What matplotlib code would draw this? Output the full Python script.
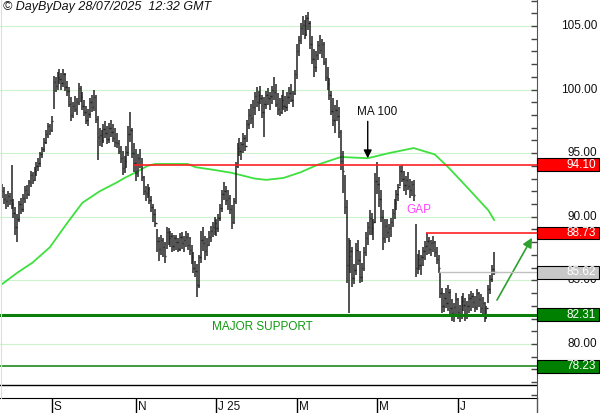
import numpy as np
import matplotlib.pyplot as plt
from matplotlib import transforms
from matplotlib.patches import Rectangle
from matplotlib.lines import Line2D

plt.rcParams['font.family'] = ['Liberation Sans', 'DejaVu Sans']

# daily bars (high / low / close), late Jul 2024 -> 28 Jul 2025
hi = [92.6, 92.3, 91.8, 92.0, 91.9, 94.1, 91.4, 90.8, 90.2, 91.2,
      91.5, 91.8, 92.4, 92.5, 92.9, 93.6, 93.5, 93.9, 94.3, 94.6,
      95.1, 95.5, 96.2, 96.8, 97.4, 97.3, 97.9, 101.1, 101.0, 101.4,
      101.6, 101.3, 101.6, 101.3, 100.7, 100.2, 99.4, 99.0, 99.5, 99.3,
      100.5, 100.3, 99.8, 99.2, 98.7, 98.5, 99.3, 99.6, 100.0, 99.6,
      97.9, 97.0, 96.8, 97.3, 97.5, 97.1, 97.4, 97.6, 97.3, 97.0,
      96.6, 96.0, 95.6, 95.2, 94.8, 95.6, 97.1, 98.2, 97.0, 95.8,
      95.3, 94.9, 95.3, 94.6, 93.2, 92.4, 92.6, 92.3, 91.6, 91.0,
      90.6, 89.0, 88.4, 88.6, 88.3, 88.0, 89.2, 89.1, 88.9, 88.7,
      88.6, 88.6, 88.3, 88.7, 88.8, 88.5, 88.9, 88.7, 88.4, 87.8,
      87.2, 86.5, 86.3, 87.0, 88.9, 89.2, 88.5, 88.3, 88.9, 89.3,
      89.6, 90.0, 89.8, 90.2, 91.0, 92.1, 92.7, 92.4, 92.1, 91.7,
      90.9, 91.5, 94.3, 95.8, 96.2, 95.9, 96.6, 96.4, 97.6, 98.5,
      98.9, 99.2, 99.8, 100.2, 99.9, 100.3, 99.6, 99.4, 99.9, 100.1,
      99.8, 100.3, 101.0, 100.4, 99.7, 99.3, 99.6, 100.0, 99.5, 99.8,
      100.2, 100.4, 99.9, 101.5, 103.6, 104.2, 105.2, 105.8, 105.5, 105.9,
      106.1, 105.4, 104.2, 103.2, 103.0, 103.8, 104.3, 104.0, 103.7, 102.5,
      101.8, 100.9, 99.9, 99.3, 98.8, 99.2, 98.6, 96.8, 95.2, 93.3,
      91.3, 88.3, 88.2, 87.6, 86.3, 87.9, 88.2, 87.3, 86.4, 87.6,
      88.8, 89.6, 90.5, 90.3, 89.8, 93.4, 94.3, 93.1, 92.1, 90.5,
      89.8, 89.8, 89.4, 89.9, 90.6, 91.4, 92.1, 92.6, 94.0, 94.1,
      93.6, 93.2, 93.5, 93.0, 92.8, 92.9, 89.4, 87.1, 87.4, 87.0,
      87.6, 88.1, 88.7, 88.4, 88.2, 88.5, 88.1, 87.6, 87.0, 85.6,
      84.4, 84.0, 84.4, 84.6, 84.3, 83.5, 83.2, 84.0, 83.6, 83.1,
      83.8, 84.0, 83.6, 83.4, 83.9, 84.2, 84.0, 83.8, 84.3, 84.1,
      83.9, 83.7, 83.3, 83.0, 84.6, 85.4, 86.2, 87.2]
lo = [91.5, 91.0, 90.6, 90.8, 90.9, 90.6, 89.9, 88.6, 88.0, 89.6,
      90.2, 90.4, 91.1, 91.4, 91.6, 92.3, 92.6, 92.8, 93.2, 93.6,
      93.9, 94.6, 95.1, 95.7, 96.2, 96.4, 96.7, 98.5, 99.8, 100.0,
      100.4, 100.0, 100.2, 99.9, 99.5, 98.6, 97.5, 97.8, 98.2, 98.0,
      98.8, 99.0, 98.4, 97.9, 97.3, 97.1, 97.8, 98.2, 98.3, 97.4,
      94.5, 95.6, 95.5, 95.8, 96.2, 95.7, 95.8, 96.3, 95.9, 95.5,
      95.4, 94.9, 94.2, 93.3, 93.4, 93.8, 94.8, 95.9, 94.6, 93.5,
      92.8, 93.1, 93.8, 92.8, 91.7, 91.2, 91.5, 91.0, 90.4, 89.6,
      89.2, 87.2, 86.5, 87.0, 86.8, 86.4, 87.5, 87.8, 87.6, 87.2,
      87.3, 87.4, 87.2, 87.3, 87.5, 87.2, 87.6, 87.4, 87.0, 86.3,
      85.6, 85.3, 83.7, 84.4, 86.4, 87.3, 86.6, 86.9, 87.7, 88.0,
      88.4, 88.6, 88.5, 88.8, 89.7, 90.4, 91.3, 90.9, 90.5, 90.2,
      89.0, 89.4, 91.0, 93.8, 94.8, 94.5, 95.0, 95.2, 95.9, 96.9,
      97.3, 97.0, 98.0, 98.6, 98.3, 98.9, 97.8, 96.3, 98.5, 98.8,
      98.4, 98.9, 99.2, 98.6, 98.0, 97.9, 98.1, 98.4, 98.2, 98.3,
      98.9, 99.0, 98.6, 99.6, 100.8, 102.6, 103.6, 104.3, 104.0, 104.2,
      104.7, 103.2, 102.0, 101.0, 101.4, 102.3, 102.8, 102.5, 101.9, 100.7,
      100.0, 99.2, 98.0, 97.1, 96.6, 97.5, 96.2, 93.7, 91.9, 90.2,
      84.8, 82.4, 85.6, 84.5, 84.7, 85.4, 86.2, 84.8, 84.9, 85.7,
      86.9, 87.8, 88.6, 88.6, 88.2, 89.5, 91.8, 90.8, 89.6, 87.4,
      87.9, 88.3, 88.0, 88.4, 89.2, 89.8, 90.5, 91.2, 92.4, 92.7,
      92.0, 91.7, 92.1, 91.5, 91.6, 91.2, 85.3, 85.5, 85.8, 85.4,
      86.1, 86.6, 87.0, 87.1, 86.9, 87.2, 86.8, 86.3, 85.6, 83.6,
      82.4, 82.5, 82.8, 82.6, 82.3, 81.8, 81.7, 82.3, 82.0, 81.7,
      82.0, 82.6, 81.8, 82.0, 82.4, 82.6, 82.8, 82.5, 82.7, 82.9,
      82.4, 82.3, 81.7, 82.0, 83.2, 83.9, 84.9, 85.4]
cl = [92.0, 91.4, 91.2, 91.6, 91.3, 91.0, 90.3, 89.2, 89.8, 91.0,
      90.6, 91.5, 92.1, 91.8, 92.7, 93.3, 92.9, 93.6, 94.0, 94.2,
      94.9, 95.3, 95.9, 96.5, 97.1, 96.8, 97.5, 100.6, 100.3, 101.0,
      100.8, 100.5, 101.2, 100.2, 99.9, 98.9, 98.0, 98.7, 98.5, 99.0,
      100.1, 99.4, 98.7, 98.2, 97.6, 98.1, 99.0, 98.6, 99.4, 97.7,
      96.3, 96.4, 96.0, 96.9, 96.6, 96.1, 97.0, 96.7, 96.2, 95.9,
      95.8, 95.2, 94.6, 93.8, 94.4, 95.1, 96.5, 96.8, 95.0, 94.2,
      93.4, 94.6, 94.1, 93.1, 92.0, 91.9, 92.2, 91.3, 90.8, 90.2,
      89.5, 88.1, 87.5, 88.2, 87.6, 86.9, 88.8, 88.3, 88.5, 87.7,
      88.3, 88.0, 87.5, 88.4, 87.9, 88.2, 88.4, 87.8, 87.4, 86.8,
      86.0, 85.7, 84.6, 86.8, 88.2, 87.9, 87.3, 87.8, 88.4, 88.9,
      89.2, 89.5, 89.1, 89.9, 90.7, 91.8, 92.0, 91.3, 91.5, 90.6,
      89.6, 91.2, 94.0, 95.4, 95.2, 95.7, 96.2, 95.6, 97.3, 98.0,
      97.8, 98.6, 99.5, 99.0, 99.6, 99.3, 98.2, 98.9, 99.6, 99.3,
      99.5, 100.0, 99.8, 98.9, 98.5, 98.2, 99.2, 98.7, 98.6, 99.4,
      99.7, 99.2, 99.7, 101.2, 103.0, 103.9, 104.8, 105.1, 104.4, 105.6,
      105.2, 103.6, 102.4, 101.8, 102.7, 103.5, 103.1, 103.6, 102.2, 101.0,
      100.4, 99.6, 98.3, 97.6, 98.4, 97.9, 96.7, 94.4, 93.6, 90.8,
      86.2, 86.9, 87.3, 85.2, 85.8, 87.4, 86.6, 85.3, 86.0, 87.2,
      88.3, 89.2, 89.9, 89.1, 89.6, 92.8, 92.6, 91.4, 90.0, 88.3,
      89.3, 88.8, 89.1, 89.6, 90.3, 91.1, 91.8, 92.3, 93.6, 93.0,
      92.5, 92.9, 92.4, 92.1, 92.6, 91.7, 86.0, 86.7, 86.2, 86.8,
      87.3, 87.7, 88.1, 87.5, 87.9, 88.0, 87.2, 86.7, 86.0, 84.0,
      83.0, 83.6, 83.2, 84.1, 82.8, 82.4, 82.9, 83.5, 82.5, 82.2,
      83.4, 83.1, 82.3, 83.0, 83.6, 83.8, 83.3, 82.9, 84.0, 83.5,
      82.8, 83.2, 82.1, 82.8, 84.3, 85.1, 85.9, 85.62]

# 100-day moving average
ma_idx = [0, 8, 16, 25, 34, 42, 51, 60, 64, 70, 76, 80, 97, 101, 110, 120,
          132, 138, 147, 156, 165, 173, 177, 191, 202, 215, 226, 233, 243,
          254, 257]
ma_val = [84.7, 85.6, 86.4, 87.6, 89.5, 91.1, 92.0, 92.7, 93.05, 93.5, 94.0,
          94.15, 94.15, 93.9, 93.7, 93.45, 93.0, 92.9, 93.05, 93.5, 94.1, 94.5,
          94.7, 94.6, 95.0, 95.4, 94.9, 93.9, 92.3, 90.5, 89.75]

month_idx = [26, 70, 112, 154, 196, 238]
month_lab = ['S', 'N', 'J 25', 'M', 'M', 'J']

ytick_vals = [80, 85, 90, 95, 100, 105]
level_vals = [94.10, 88.73, 85.62, 82.31, 78.23]
level_cols = ['#ff0000', '#ff0000', '#c8c8c8', '#008000', '#008000']

fig = plt.figure(figsize=(6, 4.13), dpi=100)
ax = fig.add_axes([0, 15 / 413, 537 / 600, 398 / 413])
ax.set_xlim(-1.04, 279.4)
ax.set_ylim(75.75, 107.04)

for v in ytick_vals:
    ax.axhline(v, color='#cdf3cd', lw=0.8, zorder=0)

idx = np.arange(len(cl))
ax.vlines(idx, lo, hi, color='#222222', lw=1.1, zorder=3)
ax.hlines(cl, idx, idx + 0.75, color='#222222', lw=1.0, zorder=3)

ax.plot(ma_idx, ma_val, color='#3ee03e', lw=1.3, zorder=2)

# support / resistance lines
xr = ax.get_xlim()[1]
ax.hlines(level_vals[0], 69, xr, color='#ff2020', lw=1.2, zorder=4)
ax.hlines(level_vals[1], 221.5, xr, color='#ff2020', lw=1.2, zorder=4)
ax.hlines(level_vals[2], 228, xr, color='#c0c0c0', lw=1.0, zorder=4)
ax.axhline(level_vals[3], color='#0a800a', lw=2.2, zorder=4)
ax.axhline(level_vals[4], color='#0a800a', lw=1.1, zorder=4)
ax.axhline(76.78, color='black', lw=1.0, zorder=4)

ax.text(135.8, 81.3, 'MAJOR SUPPORT', color='#119911', fontsize=8.5,
        ha='center', va='center')
ax.text(217.8, 90.5, 'GAP', color='#ff44ff', fontsize=8.5, ha='center', va='center')
ax.text(196, 98.2, 'MA 100', color='#111111', fontsize=8.5, ha='center', va='center')
ax.annotate('', xy=(191, 94.6), xytext=(191, 97.5),
            arrowprops=dict(arrowstyle='-|>', color='black', lw=1.0,
                            mutation_scale=12, shrinkA=0, shrinkB=0))
ax.annotate('', xy=(276.8, 88.35), xytext=(258.5, 83.45),
            arrowprops=dict(arrowstyle='-|>', color='#2ea02e', lw=1.2,
                            mutation_scale=14, shrinkA=0, shrinkB=0))

# axes styling
for s in ['top', 'left']:
    ax.spines[s].set_visible(False)
ax.spines['bottom'].set_color('black')
ax.spines['right'].set_color('#555555')
ax.yaxis.tick_right()
ax.set_yticks(np.arange(76, 108))
ax.tick_params(axis='y', direction='in', length=4, width=1, color='#444444',
               labelright=False)
ax.set_xticks(month_idx)
ax.tick_params(axis='x', direction='out', length=10.8, width=1, color='black',
               labelbottom=False)
fig.add_artist(Line2D([537 / 600] * 2, [0, 15 / 413], color='#555555', lw=1))
fig.add_artist(Line2D([0.5 / 600] * 2, [15 / 413, 1], color='#dddddd', lw=0.8))

bt = transforms.blended_transform_factory(ax.transData, fig.transFigure)
for m, lab in zip(month_idx, month_lab):
    ax.text(m + 1.0, 6 / 413, lab, transform=bt, fontsize=8.5, ha='left',
            va='center', color='#111111')

rt = transforms.blended_transform_factory(fig.transFigure, ax.transData)
for v in ytick_vals:
    ax.text(597 / 600, v, f'{v:.2f}', transform=rt, fontsize=8.5, ha='right',
            va='center', color='#111111', clip_on=False)

for v, c in zip(level_vals, level_cols):
    ax.add_patch(Rectangle((537 / 600, v - 0.5), 61.5 / 600, 1.0, transform=rt,
                           facecolor=c, edgecolor='black', lw=0.8,
                           clip_on=False, zorder=6))
    ax.text(596 / 600, v, f'{v:.2f}', transform=rt, fontsize=8.5, ha='right',
            va='center', color='white', clip_on=False, zorder=7)

fig.text(3 / 600, 1 - 7 / 413, '\u00a9 DayByDay 28/07/2025  12:32 GMT',
         fontsize=9, style='italic', ha='left', va='center', color='#111111')

fig.savefig('out.png', dpi=100)
